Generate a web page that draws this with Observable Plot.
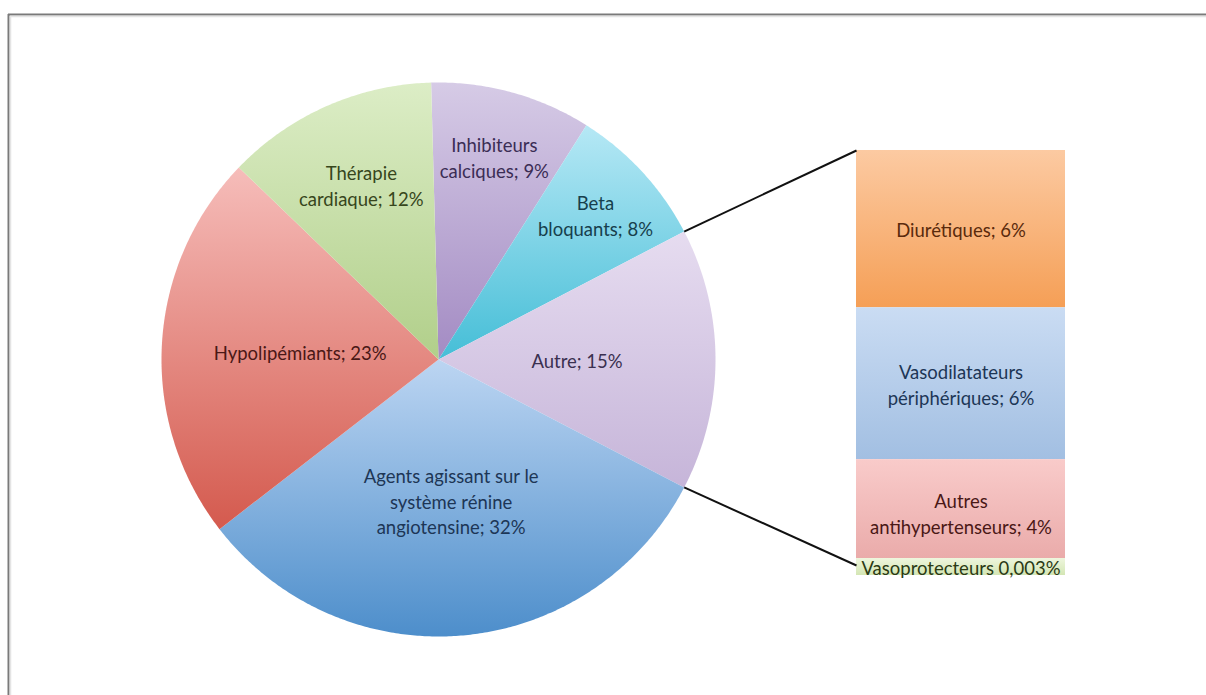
<!DOCTYPE html>
<html>
<head>
<meta charset="utf-8">
<script src="https://cdn.jsdelivr.net/npm/d3@7"></script>
<script src="https://cdn.jsdelivr.net/npm/@observablehq/plot@0.6"></script>
<style>
  html, body { margin: 0; padding: 0; background: #fff; overflow: hidden; }
  #chart svg { display: block; }
</style>
</head>
<body>
<div id="chart"></div>
<script>
// ---- Data ----
const sliceNames = ["Inhibiteurs calciques", "Beta bloquants", "Autre", "Agents agissant sur le système rénine angiotensine", "Hypolipémiants", "Thérapie cardiaque"];
const sliceValues = [9.4, 8.4, 15.3, 31.9, 22.7, 12.4];
const sliceLabels = ["Inhibiteurs\ncalciques; 9%", "Beta\nbloquants; 8%", "Autre; 15%", "Agents agissant sur le\nsystème rénine\nangiotensine; 32%", "Hypolipémiants; 23%", "Thérapie\ncardiaque; 12%"];
const barNames = ["Diurétiques", "Vasodilatateurs périphériques", "Autres antihypertenseurs", "Vasoprotecteurs"];
const barValues = [5.8, 5.6, 3.9, 0.003];
const barLabels = ["Diurétiques; 6%", "Vasodilatateurs\npériphériques; 6%", "Autres\nantihypertenseurs; 4%", "Vasoprotecteurs 0,003%"];

// ---- Styles / layout ----
const W = 1206, H = 695;
const cx = 438, cy = 359, R = 277;
const barX1 = 856, barX2 = 1065, barTop = 150, barBottom = 565;
const sliceGrad = [
  ["#d6cbe6", "#a38bc3"], // Inhibiteurs
  ["#b6e8f5", "#45bed7"], // Beta
  ["#e6dcf0", "#c6b5d9"], // Autre
  ["#bcd5f2", "#4d8ecb"], // Agents
  ["#f6bdba", "#d45a4e"], // Hypo
  ["#dcedc6", "#b1cf8a"]  // Therapie
];
const sliceText = ["#3b2d55", "#173f4d", "#3a3050", "#1d3656", "#4a1816", "#37461c"];
const labelRadius = [0.76, 0.77, 0.5, 0.51, 0.5, 0.69];
const barGrad = [
  ["#fccaa2", "#f59f56"],
  ["#cadcf3", "#a2bfe2"],
  ["#f9cbca", "#e9a9a8"],
  ["#eef6de", "#d4e6b4"]
];
const barText = ["#5a2a0c", "#1d3656", "#4a1816", "#2b3a14"];
const FS = 18.5;

// ---- Geometry from values ----
const total = d3.sum(sliceValues);
const k = 2 * Math.PI / total;
const autreIdx = sliceNames.indexOf("Autre");
const before = d3.sum(sliceValues.slice(0, autreIdx));
let a = Math.PI / 2 - (before + sliceValues[autreIdx] / 2) * k;
const slices = sliceValues.map((v, i) => {
  const a0 = a, a1 = a + v * k; a = a1;
  return {i, a0, a1, mid: (a0 + a1) / 2};
});
const px = (ang, rr) => cx + rr * Math.sin(ang);
const py = (ang, rr) => cy - rr * Math.cos(ang);

const slicePts = slices.map(s => {
  const pts = [{x: cx, y: cy}];
  const n = Math.max(8, Math.ceil((s.a1 - s.a0) / (Math.PI / 360)));
  for (let j = 0; j <= n; j++) {
    const t = s.a0 + (s.a1 - s.a0) * j / n;
    pts.push({x: px(t, R), y: py(t, R)});
  }
  pts.push({x: cx, y: cy});
  return pts;
});

const sliceLabelData = slices.map(s => ({
  x: px(s.mid, R * labelRadius[s.i]), y: py(s.mid, R * labelRadius[s.i]),
  text: sliceLabels[s.i], fill: sliceText[s.i]
}));

const barTotal = d3.sum(barValues);
const bk = (barBottom - barTop) / barTotal;
let yy = barTop;
const bars = barValues.map((v, i) => {
  const y1 = yy, y2 = yy + v * bk; yy = y2;
  return {i, x1: barX1, x2: barX2, y1, y2, ym: (y1 + y2) / 2};
});
// tiny segment: its label sits on a light label box at the bar foot
const tiny = bars[bars.length - 1];
const tinyBox = {x1: barX1, x2: barX2, y1: tiny.y2 - 7, y2: tiny.y2 + 10};

const autre = slices[autreIdx];
const links = [
  {x1: px(autre.a0, R), y1: py(autre.a0, R), x2: barX1, y2: barTop},
  {x1: px(autre.a1, R), y1: py(autre.a1, R), x2: barX1, y2: barBottom}
];

const marks = [];
// frame lines
marks.push(Plot.ruleY([14], {x1: 8, x2: W, stroke: "#7a7a7a", strokeWidth: 2}));
marks.push(Plot.ruleX([8], {y1: 14, y2: H, stroke: "#7a7a7a", strokeWidth: 2}));
marks.push(Plot.ruleY([16], {x1: 10, x2: W, stroke: "#e4e4e4", strokeWidth: 1.5}));
marks.push(Plot.ruleX([10], {y1: 16, y2: H, stroke: "#e4e4e4", strokeWidth: 1.5}));

slicePts.forEach((pts, i) => {
  marks.push(Plot.line(pts, {x: "x", y: "y", fill: `url(#sg${i})`, stroke: "none", curve: "linear"}));
});
bars.slice(0, 3).forEach((b, i) => {
  marks.push(Plot.rect([b], {x1: "x1", x2: "x2", y1: "y1", y2: "y2", fill: `url(#bg${i})`}));
});
marks.push(Plot.rect([tinyBox], {x1: "x1", x2: "x2", y1: "y1", y2: "y2", fill: `url(#bg3)`}));
marks.push(Plot.link(links, {x1: "x1", y1: "y1", x2: "x2", y2: "y2", stroke: "#111", strokeWidth: 2}));

sliceLabelData.forEach(d => {
  marks.push(Plot.text([d], {x: "x", y: "y", text: "text", fill: d.fill, fontSize: FS, lineHeight: 1.4, textAnchor: "middle"}));
});
bars.forEach((b, i) => {
  const yLab = i === bars.length - 1 ? (tinyBox.y1 + tinyBox.y2) / 2 : b.ym;
  marks.push(Plot.text([{x: (b.x1 + b.x2) / 2, y: yLab, text: barLabels[i]}], {x: "x", y: "y", text: "text", fill: barText[i], fontSize: FS, lineHeight: 1.4, textAnchor: "middle"}));
});

const svg = Plot.plot({
  width: W, height: H, margin: 0,
  x: {domain: [0, W], range: [0, W], axis: null},
  y: {domain: [0, H], range: [0, H], axis: null},
  style: {fontFamily: "Lato, 'Open Sans', sans-serif", background: "#fff", overflow: "visible"},
  marks
});

const defs = d3.select(svg).insert("defs", ":first-child");
function grad(id, c0, c1) {
  const g = defs.append("linearGradient").attr("id", id).attr("x1", 0).attr("y1", 0).attr("x2", 0).attr("y2", 1);
  g.append("stop").attr("offset", "0%").attr("stop-color", c0);
  g.append("stop").attr("offset", "100%").attr("stop-color", c1);
}
sliceGrad.forEach((c, i) => grad(`sg${i}`, c[0], c[1]));
barGrad.forEach((c, i) => grad(`bg${i}`, c[0], c[1]));

document.getElementById("chart").appendChild(svg);
</script>
</body>
</html>
